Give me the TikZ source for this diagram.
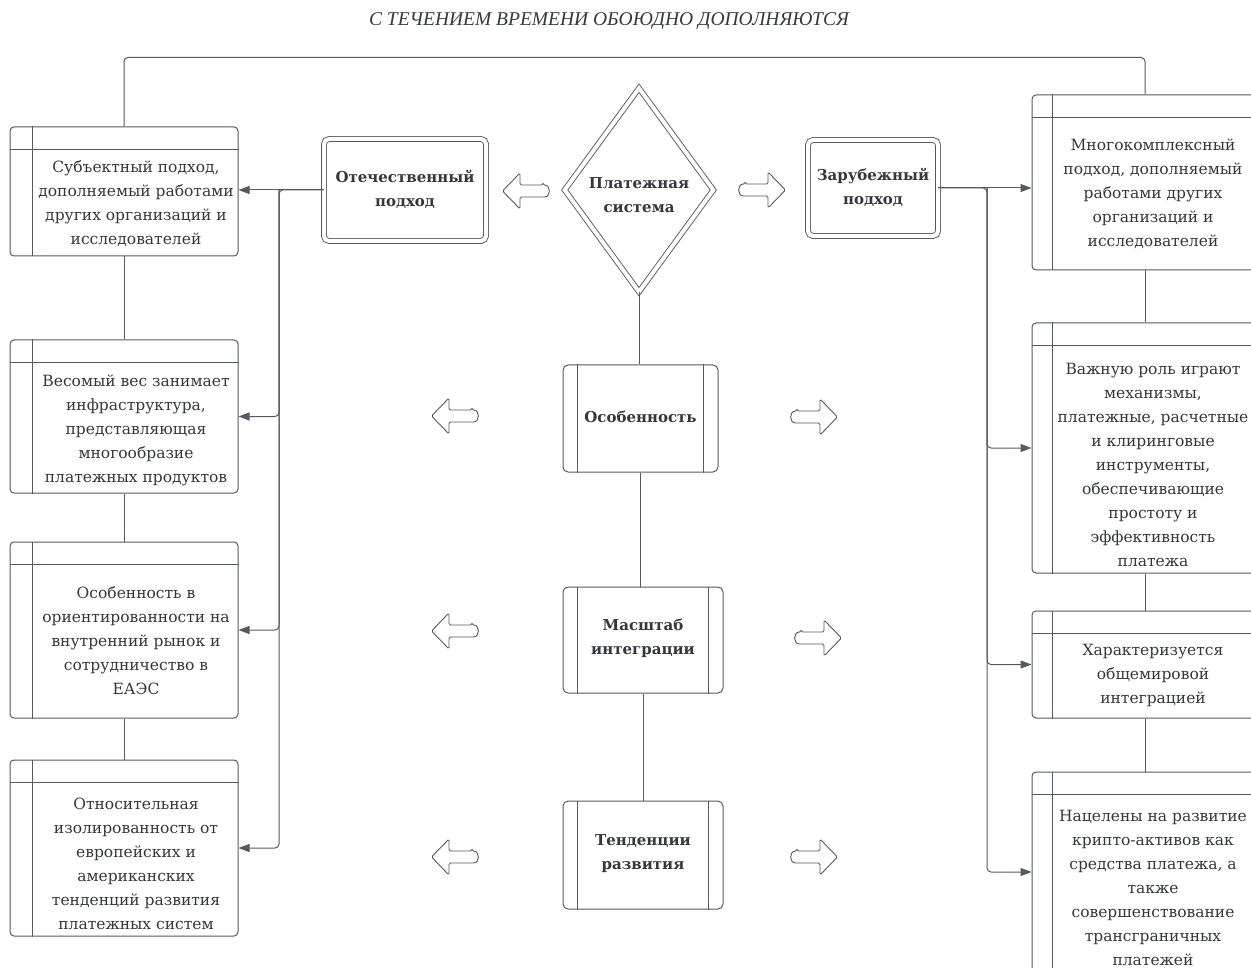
\documentclass[tikz,border=0pt]{standalone}
\usepackage{fontspec}
\setmainfont{DejaVu Serif}
\newfontfamily\titlefont{Liberation Serif}
\usetikzlibrary{arrows.meta,shapes.geometric,calc}
\definecolor{ln}{HTML}{555962}
\definecolor{tx}{HTML}{34373E}
\begin{document}
\begin{tikzpicture}[x=1pt,y=-1pt,
  lanebox/.style={draw=ln, line width=1pt, rounded corners=4pt, inner sep=0pt},
  cbox/.style={draw=ln, line width=1pt, rounded corners=5pt, inner sep=0pt},
  dbox/.style={draw=ln, line width=0.9pt, double=white, double distance=4pt, rounded corners=5pt, inner sep=0pt},
  bodytext/.style={text=tx, align=center, inner sep=0pt, font=\fontsize{15.5}{24}\selectfont},
  boldtext/.style={text=tx, align=center, inner sep=0pt, font=\fontsize{15}{24}\selectfont\bfseries},
  conn/.style={draw=ln, line width=1pt, rounded corners=4pt},
  arr/.style={conn, -{Triangle[length=11pt,width=8pt]}},
  hollow/.pic={\draw[ln, line width=0.9pt, rounded corners=1.5pt]
     (-17,-6) -- (6,-6) -- (6,-18) -- (23.5,0) -- (6,18) -- (6,6) -- (-17,6)
     .. controls (-25,6) and (-25,-6) .. (-17,-6) -- cycle;}
]
\useasboundingbox (0,0) rectangle (1251,968);
\clip (0,0) rectangle (1251,968);

\newcommand\swim[6]{%
  \node[lanebox, minimum width=#4pt, minimum height=#5pt] (#1) at (#2,#3) {};
  \draw[draw=ln, line width=1pt] ([yshift=-23pt]#1.north west) -- ([yshift=-23pt]#1.north east);
  \draw[draw=ln, line width=1pt] ([xshift=#6pt]#1.north west) -- ([xshift=#6pt]#1.south west);}
\newcommand\sidebox[4]{%
  \node[cbox, minimum width=#4pt, minimum height=#3pt] (#1) at (#2) {};
  \draw[draw=ln, line width=1pt] ([xshift=15pt]#1.north west) -- ([xshift=15pt]#1.south west);
  \draw[draw=ln, line width=1pt] ([xshift=-15pt]#1.north east) -- ([xshift=-15pt]#1.south east);}

% title
\node[text=tx, inner sep=0pt, font=\titlefont\itshape\fontsize{19.5}{22}\selectfont] (title) at (609,21)
  {С ТЕЧЕНИЕМ ВРЕМЕНИ ОБОЮДНО ДОПОЛНЯЮТСЯ};

% left column
\swim{L1}{124}{191.5}{228}{129}{23}
\swim{L2}{124}{416.5}{228}{153}{23}
\swim{L3}{124}{630}{228}{176}{23}
\swim{L4}{124}{848}{228}{176}{23}
\node[bodytext] (L1t) at (136,204) {Субъектный подход,\\дополняемый работами\\других организаций и\\исследователей};
\node[bodytext] (L2t) at (136,430) {Весомый вес занимает\\инфраструктура,\\представляющая\\многообразие\\платежных продуктов};
\node[bodytext] (L3t) at (136,641) {Особенность в\\ориентированности на\\внутренний рынок и\\сотрудничество в\\ЕАЭС};
\node[bodytext] (L4t) at (136,864) {Относительная\\изолированность от\\европейских и\\американских\\тенденций развития\\платежных систем};

% right column
\swim{R1}{1145}{182.5}{226}{175}{21}
\swim{R2}{1145}{448}{226}{250}{21}
\swim{R3}{1145}{664.5}{226}{107}{21}
\swim{R4}{1145}{891}{226}{238}{21}
\node[bodytext] (R1t) at (1153,194) {Многокомплексный\\подход, дополняемый\\работами других\\организаций и\\исследователей};
\node[bodytext] (R2t) at (1153,465) {Важную роль играют\\механизмы,\\платежные, расчетные\\и клиринговые\\инструменты,\\обеспечивающие\\простоту и\\эффективность\\платежа};
\node[bodytext] (R3t) at (1153,675) {Характеризуется\\общемировой\\интеграцией};
\node[bodytext] (R4t) at (1153,888) {Нацелены на развитие\\крипто-активов как\\средства платежа, а\\также\\совершенствование\\трансграничных\\платежей};

% central nodes
\node[dbox, minimum width=162pt, minimum height=102pt] (otech) at (405,190) {};
\node[boldtext] (otecht) at (405,189) {Отечественный\\подход};
\node[dbox, minimum width=130pt, minimum height=96pt] (zarub) at (873,188) {};
\node[boldtext] (zarubt) at (873,187) {Зарубежный\\подход};
\node[diamond, draw=ln, line width=0.9pt, double=white, double distance=4pt, inner sep=0pt,
      minimum width=149pt, minimum height=204pt] (diam) at (639,190) {};
\node[boldtext] (diamt) at (639,195) {Платежная\\система};

\sidebox{osob}{640.5,418.5}{107}{155}
\sidebox{mas}{643,640}{106}{160}
\sidebox{tend}{643,855}{108}{160}
\node[boldtext] (osobt) at (640.5,417) {Особенность};
\node[boldtext] (mast) at (643,638) {Масштаб\\интеграции};
\node[boldtext] (tendt) at (643,854) {Тенденции\\развития};

% hollow arrows
\pic[xscale=-1] (ha1) at (526,191) {hollow};
\pic (ha2) at (762,190) {hollow};
\pic[xscale=-1] (ha3) at (455,416) {hollow};
\pic (ha4) at (814,417) {hollow};
\pic[xscale=-1] (ha5) at (455,631) {hollow};
\pic (ha6) at (818,638) {hollow};
\pic[xscale=-1] (ha7) at (455,857) {hollow};
\pic (ha8) at (814,857) {hollow};

% top connector
\draw[conn] (L1.north) -- ++(0,-69) -| (R1.north);

% column links
\draw[conn] (L1.south) -- (L2.north);
\draw[conn] (L2.south) -- (L3.north);
\draw[conn] (L3.south) -- (L4.north);
\draw[conn] (R1.south) -- (R2.north);
\draw[conn] (R2.south) -- (R3.north);
\draw[conn] (R3.south) -- (R4.north);

% central links
\draw[conn] (diam.south) -- (diam.south |- osob.north);
\draw[conn] (osob.south) -- (osob.south |- mas.north);
\draw[conn] (mas.south) -- (mas.south |- tend.north);

% left bracket
\coordinate (lb) at (279,190);
\draw[arr] (otech.west) -- (otech.west -| L1.east);
\draw[arr] (otech.west) -- (lb) |- (L2.east);
\draw[arr] (lb) |- (L3.east);
\draw[arr] (lb) |- (L4.east);

% right bracket
\coordinate (rb) at (987,188);
\draw[arr] (zarub.east) -- (zarub.east -| R1.west);
\draw[arr] (zarub.east) -- (rb) |- (R2.west);
\draw[arr] (rb) |- (R3.west);
\draw[arr] (rb) |- ([yshift=19pt]R4.west);
\end{tikzpicture}
\end{document}
